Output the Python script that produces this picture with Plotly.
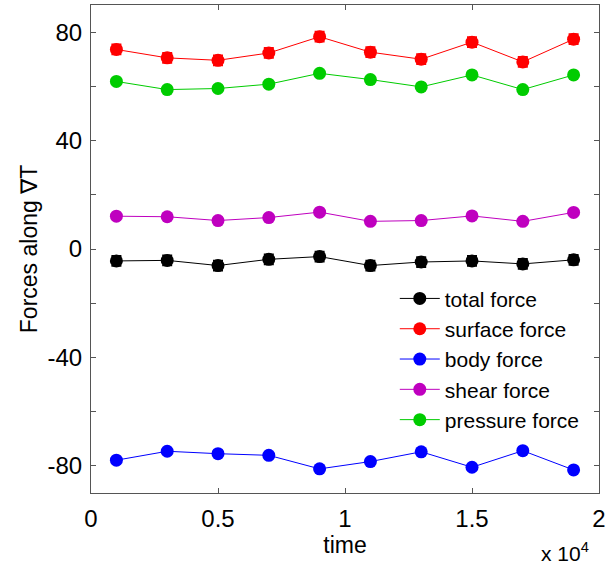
import plotly.graph_objects as go

time = [1000, 3000, 5000, 7000, 9000, 11000, 13000, 15000, 17000, 19000]
total_force = [-4.4, -4.2, -6.1, -3.8, -2.8, -6.1, -4.8, -4.4, -5.5, -4.0]
surface_force = [73.6, 70.5, 69.6, 72.3, 78.3, 72.6, 70.0, 76.3, 69.0, 77.4]
body_force = [-77.9, -74.6, -75.5, -76.1, -81.1, -78.4, -74.8, -80.5, -74.4, -81.5]
shear_force = [12.1, 11.9, 10.5, 11.6, 13.6, 10.2, 10.5, 12.2, 10.2, 13.5]
pressure_force = [61.8, 58.8, 59.2, 60.8, 64.8, 62.5, 59.8, 64.2, 58.8, 64.2]
total_err = [1.8] * 10
surface_err = [1.8] * 10

x_scaled = [t / 1e4 for t in time]

series = [
    ("total force", total_force, "#000000", total_err),
    ("surface force", surface_force, "#ff0000", surface_err),
    ("body force", body_force, "#0000ff", None),
    ("shear force", shear_force, "#bf00bf", None),
    ("pressure force", pressure_force, "#00cc00", None),
]

fig = go.Figure()
for name, vals, color, err in series:
    kw = {}
    if err is not None:
        kw["error_y"] = dict(type="data", array=err, visible=True, color=color, thickness=2, width=5)
    fig.add_trace(go.Scatter(
        x=x_scaled, y=vals, name=name, mode="lines+markers",
        line=dict(color=color, width=1),
        marker=dict(color=color, size=13),
        **kw,
    ))

axis_common = dict(
    showline=True, linecolor="#555555", linewidth=1, mirror="ticks",
    ticks="inside", ticklen=5, tickcolor="#555555",
    showgrid=False, zeroline=False,
    tickfont=dict(family="Arial, Liberation Sans, sans-serif", size=24, color="black"),
)

fig.update_layout(
    width=611, height=573,
    margin=dict(l=91, r=12, t=5, b=80),
    paper_bgcolor="white", plot_bgcolor="white",
    font=dict(family="Arial, Liberation Sans, sans-serif", color="black"),
    xaxis=dict(range=[0, 2], tickvals=[0, 0.5, 1, 1.5, 2], ticktext=["0", "0.5", "1", "1.5", "2"],
               ticklabelstandoff=4,
               title=dict(text="time", font=dict(size=23), standoff=4), **axis_common),
    yaxis=dict(range=[-90, 90], tickvals=[-80, -60, -40, -20, 0, 20, 40, 60, 80],
               ticktext=["-80", "", "-40", "", "0", "", "40", "", "80"],
               ticklabelstandoff=3,
               title=dict(text="Forces along ∇T", font=dict(size=23), standoff=3), **axis_common),
    legend=dict(x=0.598, y=0.44, xanchor="left", yanchor="top",
                bgcolor="rgba(255,255,255,0)", font=dict(size=21),
                tracegroupgap=0, itemwidth=40),
    showlegend=True,
)

fig.add_annotation(text="x 10<sup>4</sup>", xref="paper", yref="paper", x=0.984, y=-0.152,
                   xanchor="right", yanchor="bottom", showarrow=False, font=dict(size=21))

fig.write_html("out.html")
